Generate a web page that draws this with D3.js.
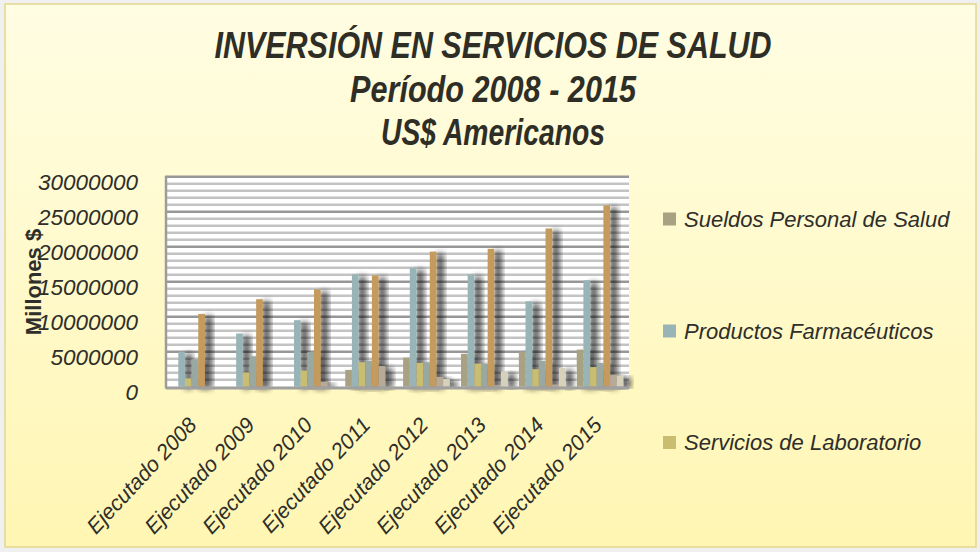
<!DOCTYPE html>
<html><head><meta charset="utf-8">
<script src="https://cdn.jsdelivr.net/npm/d3@7/dist/d3.min.js"></script>
<style>body{margin:0;background:#f0f0f0;}svg{display:block;}</style>
</head><body>
<svg id="c" width="980" height="552"></svg>
<script>
const categories = ["Ejecutado 2008","Ejecutado 2009","Ejecutado 2010","Ejecutado 2011","Ejecutado 2012","Ejecutado 2013","Ejecutado 2014","Ejecutado 2015"];
const seriesNames = ["Sueldos Personal de Salud","Productos Farmacéuticos","Servicios de Laboratorio","Serie 4","Serie 5","Serie 6","Serie 7"];
const legendNames = ["Sueldos Personal de Salud","Productos Farmacéuticos","Servicios de Laboratorio"];
const sueldos     = [0,0,0,2400000,4150000,4700000,5000000,5300000];
const productos   = [5000000,7600000,9500000,16050000,17000000,16050000,12200000,15200000];
const laboratorio = [1200000,2050000,2300000,3500000,3400000,3300000,2500000,2800000];
const serie4      = [3900000,4350000,4950000,3700000,3500000,3300000,3700000,3400000];
const serie5      = [10400000,12500000,13900000,15900000,19300000,19700000,22600000,25900000];
const serie6      = [0,0,700000,2950000,1400000,200000,300000,1700000];
const serie7      = [0,0,0,0,1100000,2200000,2700000,1600000];
const yTicks = [0,5000000,10000000,15000000,20000000,25000000,30000000];
const colors = ["#a8a283","#99b4b6","#c9bd72","#99a8a1","#c49a5d","#b9aa97","#d6d1ba"];
const titleLines = ["INVERSIÓN EN SERVICIOS DE SALUD","Período 2008 - 2015","US$ Americanos"];

const allSeries = [sueldos,productos,laboratorio,serie4,serie5,serie6,serie7];
const svg = d3.select("#c");
const defs = svg.append("defs");
const bg = defs.append("linearGradient").attr("id","bg").attr("x1",0).attr("y1",0).attr("x2",0).attr("y2",1);
bg.append("stop").attr("offset","0%").attr("stop-color","#fffde3");
bg.append("stop").attr("offset","100%").attr("stop-color","#fff6b3");
const sh = defs.append("filter").attr("id","sh").attr("x","-50%").attr("y","-20%").attr("width","300%").attr("height","140%");
sh.append("feGaussianBlur").attr("in","SourceAlpha").attr("stdDeviation",3.2).attr("result","b");
sh.append("feOffset").attr("in","b").attr("dx",7).attr("dy",2).attr("result","o");
sh.append("feComponentTransfer").attr("in","o").attr("result","o2").append("feFuncA").attr("type","linear").attr("slope",0.75);
const m = sh.append("feMerge"); m.append("feMergeNode").attr("in","o2"); m.append("feMergeNode").attr("in","SourceGraphic");

svg.append("rect").attr("x",5).attr("y",4).attr("width",971).attr("height",543).attr("fill","url(#bg)").attr("stroke","#e2d88c").attr("stroke-width",1.5);

const L=166,R=629,T=176.7,B=386.7;
const x0 = d3.scaleBand().domain(categories).range([L,R]).paddingInner(0.194).paddingOuter(0.097);
const x1 = d3.scaleBand().domain(seriesNames).range([0,x0.bandwidth()]);
const y = d3.scaleLinear().domain([0,30000000]).range([B,T]);

svg.append("rect").attr("x",L).attr("y",T).attr("width",R-L).attr("height",B-T).attr("fill","#ffffff");
const minor = d3.range(1000000,30000000,1000000).filter(v=>v%5000000!==0);
svg.append("g").selectAll("line").data(minor).join("line")
  .attr("x1",L).attr("x2",R).attr("y1",d=>y(d)).attr("y2",d=>y(d))
  .attr("stroke","#c3c3c3").attr("stroke-width",2.4);
svg.append("g").selectAll("line").data(yTicks.filter(v=>v>0)).join("line")
  .attr("x1",L).attr("x2",R).attr("y1",d=>y(d)).attr("y2",d=>y(d))
  .attr("stroke","#979797").attr("stroke-width",2.6);

const gBars = svg.append("g");
categories.forEach((c,i)=>{
  seriesNames.forEach((s,j)=>{
    const v = allSeries[j][i];
    if(v<=0) return;
    gBars.append("rect").attr("x",x0(c)+x1(s)).attr("width",x1.bandwidth())
      .attr("y",y(v)).attr("height",B-y(v)).attr("fill",colors[j]).attr("filter","url(#sh)");
  });
});
svg.append("line").attr("x1",L).attr("x2",L).attr("y1",T-1).attr("y2",B+2).attr("stroke","#9c9c9c").attr("stroke-width",2.5);
svg.append("line").attr("x1",L).attr("x2",R).attr("y1",B+1.2).attr("y2",B+1.2).attr("stroke","#a0a0a0").attr("stroke-width",3);

svg.append("g").selectAll("text").data(yTicks).join("text")
  .attr("x",138).attr("y",d=>y(d)+6).attr("text-anchor","end").attr("dominant-baseline","central")
  .attr("font-family","Liberation Sans, Arial, sans-serif").attr("font-style","italic").attr("font-size",22.5).attr("fill","#2e2e2a")
  .text(d=>d3.format("d")(d));
svg.append("text").attr("transform","translate(33,282) rotate(-90)").attr("text-anchor","middle").attr("dominant-baseline","central")
  .attr("font-family","Liberation Sans, Arial, sans-serif").attr("font-weight","bold").attr("font-size",22).attr("fill","#2e2e2a").text("Millones $");
svg.append("g").selectAll("text").data(categories).join("text")
  .attr("transform",d=>`translate(${x0(d)+x0.bandwidth()/2+3},${426}) rotate(-47)`)
  .attr("text-anchor","end")
  .attr("font-family","Liberation Sans, Arial, sans-serif").attr("font-style","italic").attr("font-size",21.5).attr("fill","#2e2e2a")
  .text(d=>d);
const tW=[557,286,224], tY=[58,102,145];
titleLines.forEach((t,i)=>{
  svg.append("text").attr("x",493).attr("y",tY[i]).attr("text-anchor","middle")
   .attr("font-family","Liberation Sans Narrow, Liberation Sans, Arial, sans-serif").attr("font-weight","bold").attr("font-style","italic")
   .attr("font-size",36).attr("fill","#2e2e26").attr("textLength",tW[i]).attr("lengthAdjust","spacingAndGlyphs").text(t);
});
const lg = svg.append("g");
legendNames.forEach((n,i)=>{
  const yy=[219,331,442.5][i];
  lg.append("rect").attr("x",663).attr("y",yy-6.5).attr("width",13).attr("height",13).attr("fill",colors[i]);
  lg.append("text").attr("x",684).attr("y",yy).attr("dominant-baseline","central")
    .attr("font-family","Liberation Sans, Arial, sans-serif").attr("font-style","italic").attr("font-size",22).attr("fill","#2e2e2a").text(n);
});
</script>
</body></html>
